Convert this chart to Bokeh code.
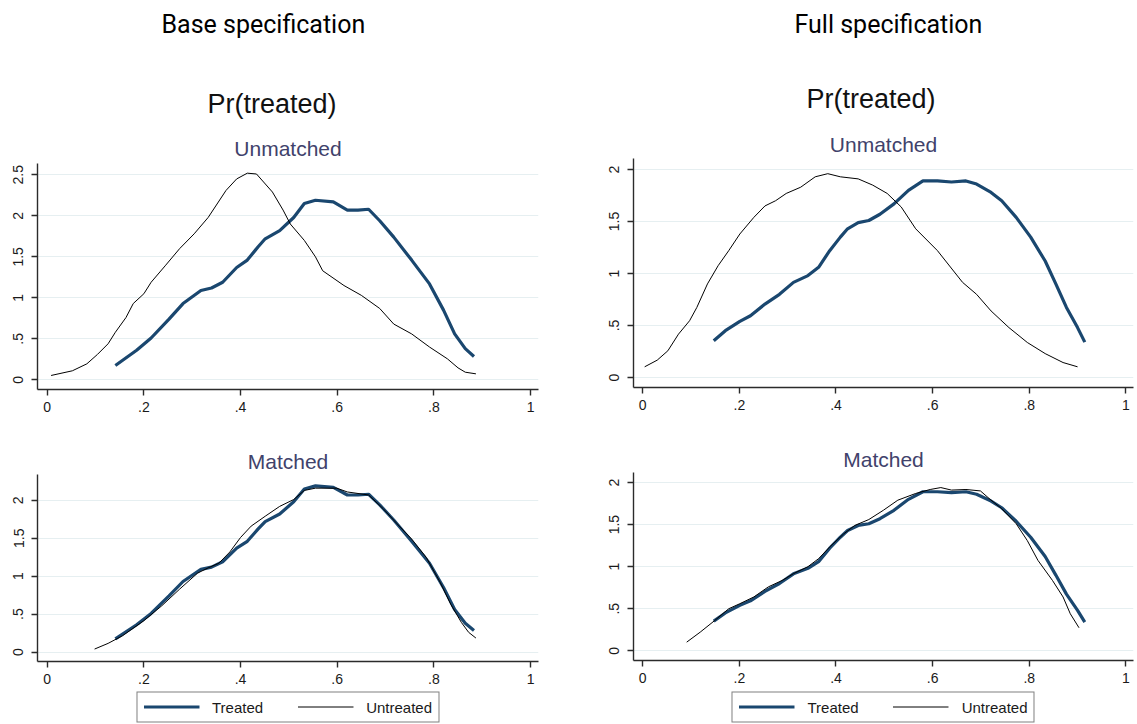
from bokeh.plotting import figure
from bokeh.models import FixedTicker, Title, Legend, LegendItem, Range1d
from bokeh.layouts import row, column
from bokeh.embed import file_html
from bokeh.resources import INLINE

# ---------------- data ----------------
x_ticks = [0, 0.2, 0.4, 0.6, 0.8, 1.0]
x_tick_labels = ["0", ".2", ".4", ".6", ".8", "1"]
y_ticks_base_unm = [0, 0.5, 1, 1.5, 2, 2.5]
y_tick_labels_base_unm = ["0", ".5", "1", "1.5", "2", "2.5"]
y_ticks_std = [0, 0.5, 1, 1.5, 2]
y_tick_labels_std = ["0", ".5", "1", "1.5", "2"]

series_names = ["Treated", "Untreated"]
column_titles = ["Base specification", "Full specification"]
graph_title = "Pr(treated)"
panel_titles = ["Unmatched", "Matched"]

# Base specification: treated density
base_treat_x = [0.141, 0.185, 0.215, 0.252, 0.281, 0.318, 0.340, 0.363, 0.392, 0.414,
                0.436, 0.451, 0.481, 0.510, 0.532, 0.555, 0.592, 0.621, 0.643, 0.665,
                0.688, 0.717, 0.754, 0.791, 0.820, 0.843, 0.865, 0.883]
base_treat_y = [0.175, 0.36, 0.51, 0.74, 0.93, 1.09, 1.12, 1.19, 1.37, 1.46,
                1.62, 1.72, 1.82, 1.98, 2.15, 2.19, 2.17, 2.07, 2.07, 2.08,
                1.94, 1.74, 1.46, 1.17, 0.85, 0.56, 0.38, 0.285]

# Base specification, unmatched: untreated density
base_unm_untr_x = [0.008, 0.052, 0.082, 0.104, 0.126, 0.141, 0.163, 0.178, 0.200, 0.215,
                   0.244, 0.274, 0.304, 0.333, 0.370, 0.392, 0.414, 0.433, 0.466, 0.488,
                   0.503, 0.532, 0.555, 0.570, 0.614, 0.650, 0.688, 0.717, 0.754, 0.791,
                   0.828, 0.850, 0.865, 0.887]
base_unm_untr_y = [0.053, 0.11, 0.195, 0.31, 0.44, 0.58, 0.76, 0.93, 1.05, 1.19,
                   1.39, 1.60, 1.78, 1.98, 2.31, 2.45, 2.52, 2.51, 2.29, 2.07,
                   1.90, 1.70, 1.50, 1.33, 1.15, 1.03, 0.87, 0.68, 0.56, 0.40,
                   0.256, 0.146, 0.093, 0.073]

# Base specification, matched: untreated density
base_mat_untr_x = [0.098, 0.126, 0.156, 0.200, 0.237, 0.274, 0.311, 0.333, 0.355, 0.378,
                   0.400, 0.422, 0.451, 0.481, 0.510, 0.532, 0.555, 0.599, 0.621, 0.665,
                   0.695, 0.724, 0.754, 0.784, 0.813, 0.835, 0.857, 0.872, 0.887]
base_mat_untr_y = [0.04, 0.115, 0.216, 0.414, 0.61, 0.83, 1.04, 1.11, 1.17, 1.32,
                   1.51, 1.66, 1.79, 1.92, 2.01, 2.13, 2.16, 2.16, 2.11, 2.07,
                   1.89, 1.69, 1.49, 1.25, 0.92, 0.63, 0.39, 0.26, 0.185]

# Full specification: treated density
full_treat_x = [0.147, 0.171, 0.201, 0.223, 0.253, 0.283, 0.312, 0.342, 0.364, 0.387,
                0.409, 0.424, 0.446, 0.468, 0.491, 0.520, 0.550, 0.580, 0.610, 0.639,
                0.669, 0.691, 0.721, 0.743, 0.773, 0.803, 0.833, 0.855, 0.877, 0.900,
                0.915]
full_treat_y = [0.353, 0.45, 0.54, 0.594, 0.706, 0.80, 0.915, 0.98, 1.06, 1.22,
                1.35, 1.43, 1.49, 1.51, 1.57, 1.67, 1.80, 1.89, 1.89, 1.88,
                1.89, 1.86, 1.78, 1.70, 1.54, 1.35, 1.12, 0.90, 0.674, 0.48,
                0.34]

# Full specification, unmatched: untreated density
full_unm_untr_x = [0.004, 0.030, 0.052, 0.074, 0.097, 0.112, 0.134, 0.156, 0.178, 0.201,
                   0.230, 0.253, 0.275, 0.297, 0.327, 0.357, 0.383, 0.409, 0.446, 0.476,
                   0.506, 0.535, 0.565, 0.610, 0.662, 0.691, 0.721, 0.758, 0.796, 0.833,
                   0.870, 0.900]
full_unm_untr_y = [0.103, 0.167, 0.257, 0.417, 0.546, 0.674, 0.90, 1.075, 1.22, 1.38,
                   1.54, 1.65, 1.70, 1.77, 1.83, 1.93, 1.96, 1.93, 1.91, 1.85,
                   1.77, 1.64, 1.43, 1.22, 0.915, 0.80, 0.64, 0.48, 0.337, 0.23,
                   0.144, 0.103]

# Full specification, matched: untreated density
full_mat_untr_x = [0.091, 0.119, 0.149, 0.178, 0.201, 0.230, 0.260, 0.290, 0.312, 0.342,
                   0.364, 0.387, 0.416, 0.439, 0.468, 0.498, 0.528, 0.565, 0.595, 0.617,
                   0.639, 0.669, 0.699, 0.721, 0.743, 0.773, 0.796, 0.818, 0.848, 0.870,
                   0.885, 0.903]
full_mat_untr_y = [0.103, 0.222, 0.36, 0.50, 0.56, 0.64, 0.76, 0.84, 0.917, 1.0,
                   1.095, 1.234, 1.39, 1.49, 1.56, 1.67, 1.79, 1.87, 1.917, 1.94,
                   1.91, 1.917, 1.90, 1.79, 1.69, 1.51, 1.31, 1.075, 0.837, 0.64,
                   0.44, 0.274]

# ---------------- styling ----------------
TREAT_COLOR = "#1a476f"
UNTR_COLOR = "#000000"
GRID_COLOR = "#e6eff1"
AXIS_COLOR = "#2b2b2b"
PANEL_TITLE_COLOR = "#41426b"
TICK_FONT = "Liberation Sans"
TREAT_W, UNTR_W = 3.2, 1.0


def blank_fig(width, height, borders, yr=(0, 1)):
    bl, br, bt, bb = borders
    p = figure(width=width, height=height, output_backend="svg",
               toolbar_location=None, x_range=Range1d(0, 1), y_range=Range1d(*yr),
               x_axis_location=None, y_axis_location=None,
               min_border_left=bl, min_border_right=br,
               min_border_top=bt, min_border_bottom=bb)
    p.outline_line_color = None
    p.grid.visible = False
    p.border_fill_color = "white"
    return p


def make_panel(width, height, borders, xr, yr, yticks, ylabels,
               treat, untr, titles):
    bl, br, bt, bb = borders
    p = figure(width=width, height=height, output_backend="svg",
               toolbar_location=None, x_range=Range1d(*xr), y_range=Range1d(*yr),
               min_border_left=bl, min_border_right=br,
               min_border_top=bt, min_border_bottom=bb)
    p.outline_line_color = None
    p.background_fill_color = "white"
    p.border_fill_color = "white"

    p.line(treat[0], treat[1], line_color=TREAT_COLOR, line_width=TREAT_W)
    p.line(untr[0], untr[1], line_color=UNTR_COLOR, line_width=UNTR_W)

    p.xaxis.ticker = FixedTicker(ticks=x_ticks)
    p.xaxis.major_label_overrides = {v: s for v, s in zip(x_ticks, x_tick_labels)}
    p.yaxis.ticker = FixedTicker(ticks=yticks)
    p.yaxis.major_label_overrides = {v: s for v, s in zip(yticks, ylabels)}
    p.yaxis.major_label_orientation = "vertical"
    for ax in (p.xaxis, p.yaxis):
        ax.axis_line_color = AXIS_COLOR
        ax.axis_line_width = 1.4
        ax.major_tick_line_color = AXIS_COLOR
        ax.major_tick_line_width = 1.4
        ax.major_tick_out = 6
        ax.major_tick_in = 0
        ax.minor_tick_line_color = None
        ax.major_label_text_font = TICK_FONT
        ax.major_label_text_font_size = "14px"
        ax.major_label_text_color = "#1a1a1a"
    p.xaxis.major_label_standoff = 6
    p.yaxis.major_label_standoff = 8

    p.xgrid.visible = False
    p.ygrid.ticker = FixedTicker(ticks=yticks)
    p.ygrid.grid_line_color = GRID_COLOR
    p.ygrid.grid_line_width = 1

    for t in titles:
        p.add_layout(t, "above")
    return p


def panel_title(text, standoff):
    return Title(text=text, align="center", text_font="Liberation Sans",
                 text_font_size="21px", text_font_style="normal",
                 text_color=PANEL_TITLE_COLOR, standoff=standoff)


def pr_title(offset, standoff):
    return Title(text=graph_title, align="left", offset=offset,
                 text_font="Liberation Sans", text_font_size="27px",
                 text_font_style="normal", text_color="#111111", standoff=standoff)


def header_fig(width, borders, text, offset):
    p = blank_fig(width, 60, borders)
    p.add_layout(Title(text=text, align="left", offset=offset,
                       text_font="Roboto", text_font_size="25px",
                       text_font_style="normal", text_color="#000000",
                       standoff=2), "above")
    return p


def legend_fig(width, borders, treat, untr):
    # the key's strip: the two series are drawn here but lie outside the
    # visible range, so that only their legend samples show
    p = blank_fig(width, 33, borders, yr=(-20, -19))
    r_t = p.line(treat[0], treat[1], line_color=TREAT_COLOR, line_width=TREAT_W)
    r_u = p.line(untr[0], untr[1], line_color=UNTR_COLOR, line_width=UNTR_W)
    legend = Legend(items=[LegendItem(label=series_names[0], renderers=[r_t]),
                           LegendItem(label=series_names[1], renderers=[r_u])],
                    orientation="horizontal", location="center",
                    border_line_color="black", border_line_width=1,
                    background_fill_color="white", background_fill_alpha=1,
                    glyph_width=56, glyph_height=14, label_height=14,
                    label_standoff=13, spacing=34, padding=6, margin=0,
                    label_text_font=TICK_FONT, label_text_font_size="15px",
                    label_text_color="#1a1a1a")
    p.add_layout(legend, "center")
    return p


LW, RW = 603, 533
L_SIDE = (37, 65)
R_SIDE = (30, 0)
L_XR = (-0.0201, 1.0165)
R_XR = (-0.0191, 1.0158)

h_l = header_fig(LW, (L_SIDE[0], L_SIDE[1], 39, 0), column_titles[0], 124)
h_r = header_fig(RW, (R_SIDE[0], R_SIDE[1], 39, 0), column_titles[1], 161)

p_tl = make_panel(LW, 370, (L_SIDE[0], L_SIDE[1], 103, 41), L_XR, (-0.118, 2.638),
                  y_ticks_base_unm, y_tick_labels_base_unm,
                  (base_treat_x, base_treat_y), (base_unm_untr_x, base_unm_untr_y),
                  [panel_title(panel_titles[0], 8), pr_title(170, 24)])
p_tr = make_panel(RW, 370, (R_SIDE[0], R_SIDE[1], 98, 43), R_XR, (-0.096, 2.106),
                  y_ticks_std, y_tick_labels_std,
                  (full_treat_x, full_treat_y), (full_unm_untr_x, full_unm_untr_y),
                  [panel_title(panel_titles[0], 5), pr_title(173, 30)])
p_bl = make_panel(LW, 260, (L_SIDE[0], L_SIDE[1], 44, 29), L_XR, (-0.124, 2.34),
                  y_ticks_std, y_tick_labels_std,
                  (base_treat_x, base_treat_y), (base_mat_untr_x, base_mat_untr_y),
                  [panel_title(panel_titles[1], 4)])
p_br = make_panel(RW, 260, (R_SIDE[0], R_SIDE[1], 42, 30), R_XR, (-0.115, 2.119),
                  y_ticks_std, y_tick_labels_std,
                  (full_treat_x, full_treat_y), (full_mat_untr_x, full_mat_untr_y),
                  [panel_title(panel_titles[1], 4)])

l_l = legend_fig(LW, (L_SIDE[0], L_SIDE[1], 0, 0),
                 (base_treat_x, base_treat_y), (base_mat_untr_x, base_mat_untr_y))
l_r = legend_fig(RW, (R_SIDE[0] - 3, R_SIDE[1] + 3, 0, 0),
                 (full_treat_x, full_treat_y), (full_mat_untr_x, full_mat_untr_y))

layout = row(column(h_l, p_tl, p_bl, l_l), column(h_r, p_tr, p_br, l_r))

open("out.html", "w").write(file_html(layout, INLINE))
